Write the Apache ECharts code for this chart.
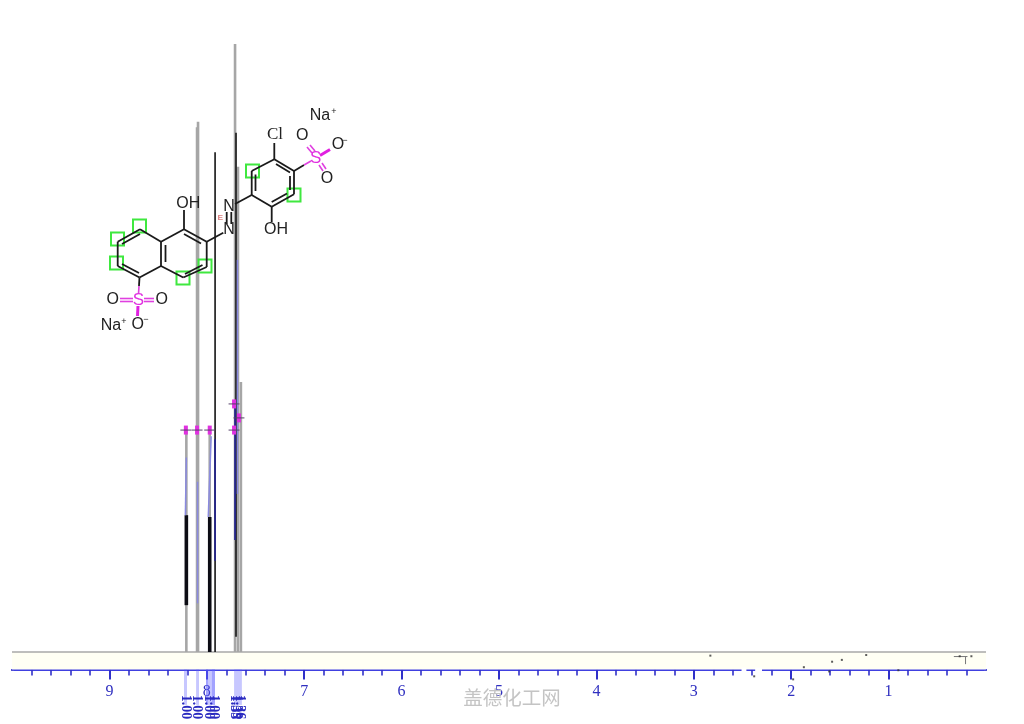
<!DOCTYPE html>
<html><head><meta charset="utf-8">
<style>html,body{margin:0;padding:0;background:#fff}#c{width:1024px;height:724px}</style>
<script src="https://cdn.jsdelivr.net/npm/echarts@6/dist/echarts.min.js"></script>
</head><body><div id="c"></div>
<script>
// spectrum data: [ppm, low intensity, high intensity]
const baseline = [[0, 0, 10, 0]];
const grayPeaks = [[8.21,0,36.5],[8.10,0,86.3],[8.09,0,87.2],[7.97,0,36.5],[7.71,0,100],[7.68,0,79.8],[7.65,0,44.4]];
const blackPeaks = [[7.915,0,82.2],[7.70,2.5,85.4]];
const heavyPeaks = [[8.21,7.7,22.5],[7.97,0,22.2]];
// integral traces: [ppm1, value1, ppm2, value2]
const integralCurves = [[8.21,32,8.22,22.5],[7.955,35.5,7.985,22.2],[8.095,28,8.095,8],[7.685,64.5,7.685,26]];
const darkCurves = [[7.915,35,7.915,15],[7.71,40.6,7.71,18.4]];
// integral regions
const integralBands = [[8.234,8.203],[8.11,8.08],[8.008,7.916],[8.008,7.988],[7.947,7.916],[7.72,7.64]];
const integralPpm = [8.215,8.10,7.985,7.935,7.71,7.69,7.665];
const integralText = ['1.00','1.00','1.00','1.00','1.35','1.39','1.36'];
// peak picks
const pickPpm = [8.215,8.10,7.97,7.72,7.72,7.67];
const pickValue = [36.5,36.5,36.5,36.5,40.8,38.5];
// low-level noise
const noisePpm = [2.83,1.87,1.61,1.48,1.23,1.58,1.98,0.27,0.15,0.9,2.38];
const noiseValue = [-0.6,-2.5,-3.2,-1.3,-0.5,-1.6,-4.5,-0.7,-0.7,-3,-4];
const noiseTrace = [[0.33,-0.75,0.19,-0.75],[0.21,-0.75,0.21,-2]];
const axisGaps = [[2.51,-2.88,2.46,-2.88],[2.37,-2.88,2.30,-2.88]];
const axisEnds = [[10,-3.1,10,-5],[0,-3.1,0,-5]];
const offBand = [[0,10]];
const watermark = '盖德化工网';

// molecule annotation
const bonds = [[274.3,159.3,294,171],[294,171,294,194.3],[294,194.3,271.7,206.7],[271.7,206.7,251.7,195],[251.7,195,251.7,171],[251.7,171,274.3,159.3],
 [276,164,290,172.5],[290,176,290,190],[271.7,202,287,193.5],[255.5,191,255.5,174.5],
 [274.3,159.3,274.3,143],[271.7,206.7,271.7,222],[251.7,195,235,204],[223.3,232.7,206.7,241.7],
 [226.7,212,226.7,224],[231.3,212,231.3,224],
 [184,210,184,229.3],[184,229.3,206.7,241.7],[206.7,241.7,206.7,267],[206.7,267,183.3,277.5],[183.3,277.5,161,266],[161,266,161,241.7],[161,241.7,184,229.3],
 [184,234,201,243.5],[202.5,265,185,274],[165.5,245,165.5,262],
 [161,241.7,140,229.3],[140,229.3,117.7,241.7],[117.7,241.7,117.7,266],[117.7,266,139.5,277.5],[139.5,277.5,161,266],
 [140,234,122,244],[122,264,139,273],
 [139.5,277.5,139,286],[294,171,304,165]];
const pinkBonds = [[139,286,138.5,294],[304,165,311,161],[120,298.5,133,298.5],[120,301.5,133,301.5],[144,298.5,154,298.5],[144,301.5,154,301.5],
 [307,147,312,153],[310,145,315,151],[319,165,323,171],[322,163,326,169]];
const wedges = [[320,155.5,330,149.5],[138,306,137.5,316]];
const squares = [[139.5,226],[117.5,239],[116.5,263],[183,278],[205,266],[252.5,171],[294,195]];
const blackLabels = [['OH',188.3,204],['OH',276,230],['N',229,206.5],['N',229,230],['O',112.7,300],['O',161.7,300],['O',137.7,324.5],['O',302.3,135.7],['O',327,178.3],['O',338,145],['Na',111,326],['Na',320,116]];
const superLabels = [['+',124,322],['−',146,320],['+',334,112],['−',345,141]];
const pinkLabels = [['S',138.3,300],['S',315.7,158.3]];

const gfx = [];
bonds.forEach(b=>gfx.push({type:'line',shape:{x1:b[0],y1:b[1],x2:b[2],y2:b[3]},style:{stroke:'#1a1a1a',lineWidth:1.8},z:20}));
pinkBonds.forEach(b=>gfx.push({type:'line',shape:{x1:b[0],y1:b[1],x2:b[2],y2:b[3]},style:{stroke:'#e040e0',lineWidth:1.6},z:20}));
wedges.forEach(b=>gfx.push({type:'line',shape:{x1:b[0],y1:b[1],x2:b[2],y2:b[3]},style:{stroke:'#e020e0',lineWidth:3},z:20}));
squares.forEach(s=>gfx.push({type:'rect',shape:{x:s[0]-6.5,y:s[1]-6.5,width:13,height:13},style:{fill:'transparent',stroke:'#3fe83f',lineWidth:2},z:19}));
const txt=(t,x,y,size,color,font)=>gfx.push({type:'text',x:x,y:y,style:{text:t,fill:color,fontSize:size,fontFamily:font||'Liberation Sans',align:'center',verticalAlign:'middle',backgroundColor:'transparent'},z:22});
blackLabels.forEach(l=>txt(l[0],l[1],l[2],16,'#222'));
superLabels.forEach(l=>txt(l[0],l[1],l[2],9,'#222'));
pinkLabels.forEach(l=>txt(l[0],l[1],l[2],17,'#e030e0'));
txt('Cl',275,135,17,'#222','Liberation Serif');
txt('E',220.5,218,8,'#c84040');
txt(watermark,512,698,19.5,'#c4c4c4','Noto Sans CJK SC');

const vertical = (color,width)=>(p,api)=>{
  const a=api.coord([api.value(0),api.value(1)]),b=api.coord([api.value(0),api.value(2)]);
  return {type:'line',shape:{x1:a[0],y1:a[1],x2:b[0],y2:b[1]},style:{stroke:color,lineWidth:width},silent:true};
};
const segment = (color,width)=>(p,api)=>{
  const a=api.coord([api.value(0),api.value(1)]),b=api.coord([api.value(2),api.value(3)]);
  return {type:'line',shape:{x1:a[0],y1:a[1],x2:b[0],y2:b[1]},style:{stroke:color,lineWidth:width},silent:true};
};
const custom=(data,renderItem,z)=>({type:'custom',data:data,renderItem:renderItem,z:z,silent:true,animation:false,clip:false,
  encode:{x:0,y:1}});
const bandBottom=-8.7, axisValue=-2.88;

const series=[
 custom(offBand,(p,api)=>{const a=api.coord([api.value(0),0]),b=api.coord([api.value(1),axisValue]);
   return {type:'rect',shape:{x:b[0],y:a[1],width:a[0]-b[0],height:b[1]-a[1]},style:{fill:'#fffff4'}};},1),
 custom(baseline,segment('#a8a8a8',1.4),3),
 custom(grayPeaks,vertical('#a6a6a6',2.6),4),
 custom(blackPeaks,vertical('#141414',1.6),5),
 custom(heavyPeaks,vertical('#0c0c14',3.6),6),
 custom(integralCurves,segment('#8a8ae0',1.5),7),
 custom(darkCurves,segment('#26268c',1.8),7),
 custom(integralBands,(p,api)=>{const a=api.coord([api.value(0),axisValue]),b=api.coord([api.value(1),bandBottom]);
   return {type:'rect',shape:{x:a[0],y:a[1],width:b[0]-a[0],height:b[1]-a[1]},style:{fill:'rgba(90,90,255,0.34)'}};},8),
 custom(integralPpm.map((v,i)=>[v,integralText[i]]),(p,api)=>{const a=api.coord([api.value(0),-9.05]);
   return {type:'text',x:a[0],y:a[1],rotation:-Math.PI/2,style:{text:integralText[p.dataIndex],fill:'#2a2ac0',fontSize:14,fontWeight:'bold',fontFamily:'Liberation Serif',align:'center',verticalAlign:'middle'}};},9),
 custom(pickPpm.map((v,i)=>[v,pickValue[i]]),(p,api)=>{const a=api.coord([api.value(0),api.value(1)]);
   return {type:'group',children:[
    {type:'rect',shape:{x:a[0]-2,y:a[1]-4.5,width:4,height:9},style:{fill:'#e030e0'}},
    {type:'line',shape:{x1:a[0]-5.5,y1:a[1],x2:a[0]+5.5,y2:a[1]},style:{stroke:'#55406a',lineWidth:1}}]};},10),
 custom(noiseTrace,segment('#777',1),3),
 custom(axisGaps,segment('#ffffff',4),11),
 custom(axisEnds,segment('#ffffff',3),11),
 {type:'scatter',data:noisePpm.map((v,i)=>[v,noiseValue[i]]),symbol:'rect',symbolSize:2,itemStyle:{color:'#333'},z:12,silent:true,animation:false,clip:false}
];

const chart=echarts.init(document.getElementById('c'),null,{renderer:'canvas'});
chart.setOption({
 animation:false,backgroundColor:'#fff',
 tooltip:{show:false},
 grid:{left:12,right:38,top:44,bottom:54.5},
 xAxis:{type:'value',min:0,max:10,inverse:true,interval:1,
  axisLine:{show:true,onZero:false,lineStyle:{color:'#4040e0',width:2}},
  axisTick:{show:true,length:10,lineStyle:{color:'#3030c8',width:2}},
  minorTick:{show:true,splitNumber:5,length:6,lineStyle:{color:'#3030c8',width:1.6}},
  splitLine:{show:false},minorSplitLine:{show:false},
  axisLabel:{color:'#3030c0',fontFamily:'Liberation Serif',fontSize:16,margin:14,showMinLabel:false,showMaxLabel:false,
    formatter:v=>String(v)}},
 yAxis:{type:'value',min:axisValue,max:100,show:false,splitLine:{show:false}},
 series:series,
 graphic:{elements:gfx}
});
</script></body></html>
